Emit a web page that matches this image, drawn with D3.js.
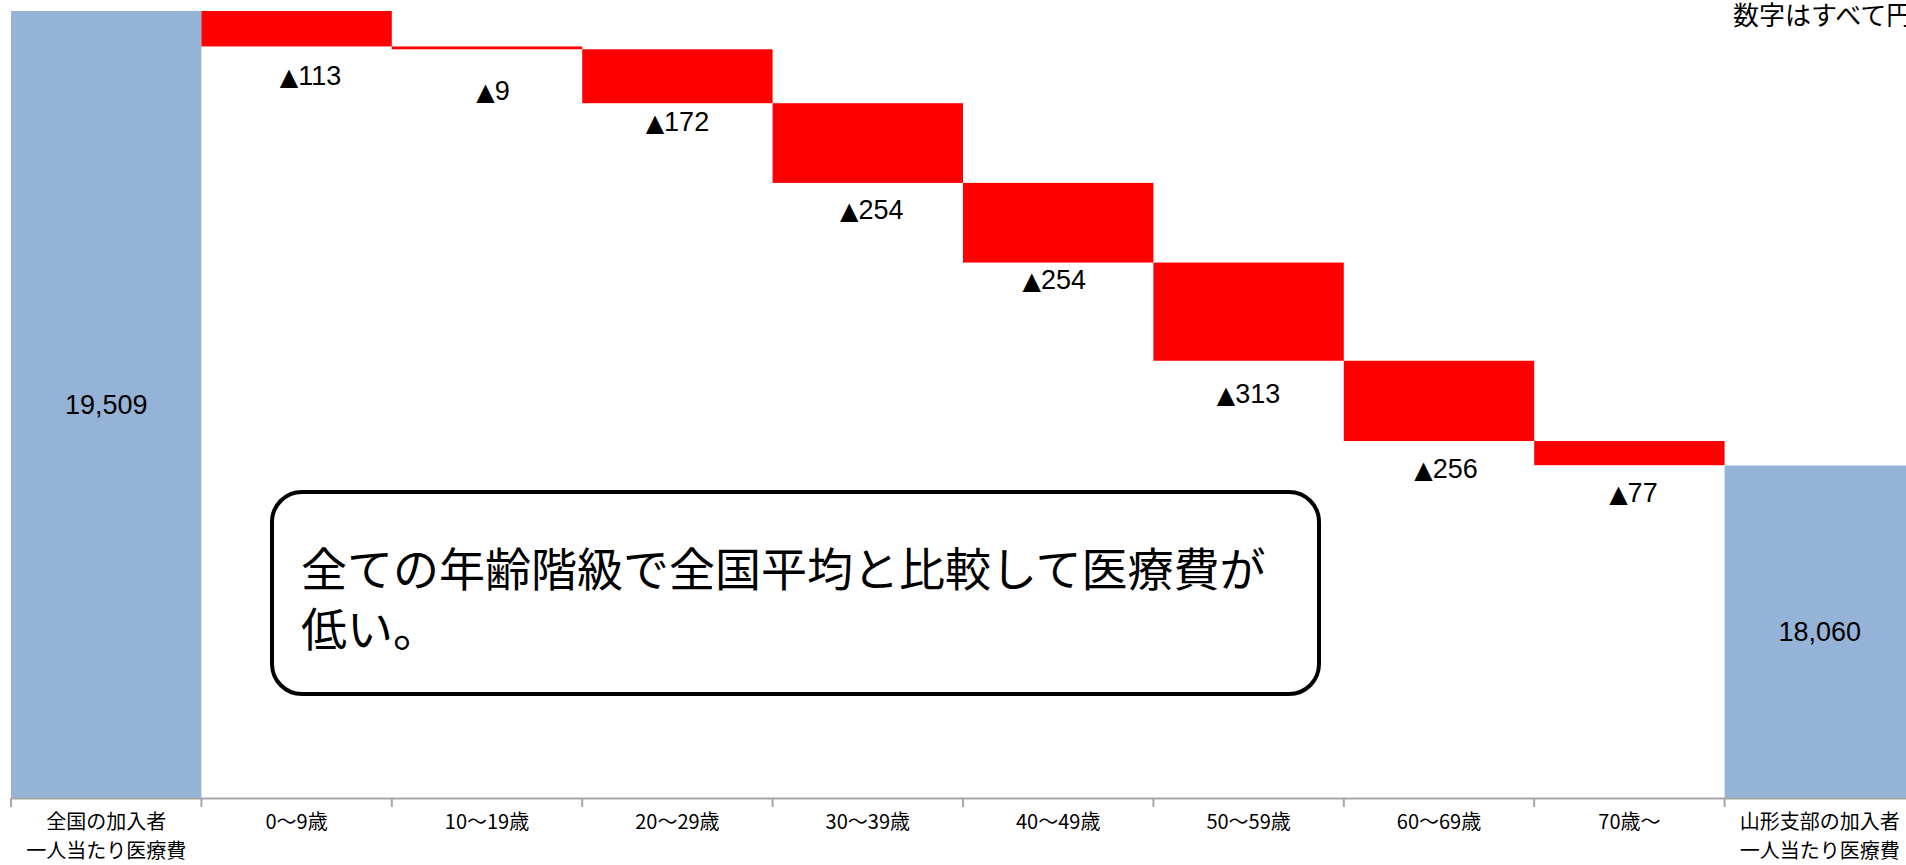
<!DOCTYPE html>
<html>
<head>
<meta charset="utf-8">
<script src="https://cdn.jsdelivr.net/npm/d3@7"></script>
<style>
  body { margin: 0; background: #fff; overflow: hidden; }
  svg { display: block; }
</style>
</head>
<body>
<div id="chart"></div>
<script>
// データ
var categories = ["全国の加入者\n一人当たり医療費", "0〜9歳", "10〜19歳", "20〜29歳", "30〜39歳",
    "40〜49歳", "50〜59歳", "60〜69歳", "70歳〜", "山形支部の加入者\n一人当たり医療費"];
var startTotal = 19509;
var decreases = [113, 9, 172, 254, 254, 313, 256, 77];
var endTotal = 18060;
var axisFloor = 17000;
var noteText = "数字はすべて円";
var calloutLines = ["全ての年齢階級で全国平均と比較して医療費が", "低い。"];

// ラベルの微調整 (px)
var labelNudge = [[14, 29], [6, 41], [0, 18], [4, 27], [-4, 17], [0, 33], [7, 28], [4, 27]];

var width = 1906, height = 865;
var svg = d3.select("#chart").append("svg")
    .attr("width", width)
    .attr("height", height)
    .style("font-family", "'Liberation Sans', Arial, 'Noto Sans CJK JP', sans-serif");

var x = d3.scaleBand().domain(categories).range([11, 1915]).padding(0);
var y = d3.scaleLinear().domain([axisFloor, startTotal]).range([798, 11]);

// 積み上げ計算
var steps = [];
var level = startTotal;
decreases.forEach(function (d, i) {
    steps.push({ cat: categories[i + 1], top: level, bottom: level - d, value: d });
    level -= d;
});

var totals = [
    { cat: categories[0], value: startTotal },
    { cat: categories[categories.length - 1], value: endTotal }
];

// 合計の棒
svg.selectAll("rect.total")
    .data(totals)
    .enter()
    .append("rect")
    .attr("class", "total")
    .attr("x", function (d) { return x(d.cat); })
    .attr("width", x.bandwidth())
    .attr("y", function (d) { return y(d.value); })
    .attr("height", function (d) { return y(axisFloor) - y(d.value); })
    .attr("fill", "#95b3d7");

svg.selectAll("text.total")
    .data(totals)
    .enter()
    .append("text")
    .attr("class", "total")
    .attr("x", function (d) { return x(d.cat) + x.bandwidth() / 2; })
    .attr("y", function (d) { return (y(d.value) + y(axisFloor)) / 2; })
    .attr("dy", "0.35em")
    .attr("text-anchor", "middle")
    .style("font-size", "27px")
    .text(function (d) { return d3.format(",")(d.value); });

// 減少分の棒
svg.selectAll("rect.step")
    .data(steps)
    .enter()
    .append("rect")
    .attr("class", "step")
    .attr("x", function (d) { return x(d.cat); })
    .attr("width", x.bandwidth())
    .attr("y", function (d) { return y(d.top); })
    .attr("height", function (d) { return y(d.bottom) - y(d.top); })
    .attr("fill", "#ff0000");

var stepText = svg.selectAll("text.step")
    .data(steps)
    .enter()
    .append("text")
    .attr("class", "step")
    .attr("x", function (d, i) { return x(d.cat) + x.bandwidth() / 2 + labelNudge[i][0]; })
    .attr("y", function (d, i) { return y(d.bottom) + labelNudge[i][1]; })
    .attr("dy", "0.35em")
    .attr("text-anchor", "middle")
    .style("font-size", "27px");

stepText.append("tspan")
    .style("font-family", "'DejaVu Sans', sans-serif")
    .style("font-size", "24px")
    .text("▲");
stepText.append("tspan")
    .text(function (d) { return d.value; });

// 横軸
var axisY = y(axisFloor);
var axisG = svg.append("g");
axisG.append("line")
    .attr("x1", x.range()[0]).attr("x2", x.range()[1])
    .attr("y1", axisY + 0.5).attr("y2", axisY + 0.5)
    .attr("stroke", "#a6a6a6").attr("stroke-width", 2);

axisG.selectAll("line.tick")
    .data(categories.concat([null]))
    .enter()
    .append("line")
    .attr("class", "tick")
    .attr("x1", function (d) { return d ? x(d) : x.range()[1]; })
    .attr("x2", function (d) { return d ? x(d) : x.range()[1]; })
    .attr("y1", axisY).attr("y2", axisY + 9)
    .attr("stroke", "#a6a6a6").attr("stroke-width", 2);

var catText = axisG.selectAll("text.cat")
    .data(categories)
    .enter()
    .append("text")
    .attr("class", "cat")
    .attr("text-anchor", "middle")
    .style("font-family", "'Noto Sans CJK JP', sans-serif")
    .style("font-size", "20px");

catText.selectAll("tspan")
    .data(function (d) { return d.split("\n").map(function (t) { return { t: t, c: d }; }); })
    .enter()
    .append("tspan")
    .attr("x", function (d) { return x(d.c) + x.bandwidth() / 2; })
    .attr("y", function (d, i) { return axisY + 31 + i * 29; })
    .text(function (d) { return d.t; });

// 単位の注記
svg.append("text")
    .attr("x", 1733)
    .attr("y", 25)
    .style("font-family", "'Noto Sans CJK JP', sans-serif")
    .style("font-size", "26px")
    .text(noteText);

// 吹き出し
svg.append("rect")
    .attr("x", 272).attr("y", 492)
    .attr("width", 1047).attr("height", 202)
    .attr("rx", 30).attr("ry", 30)
    .attr("fill", "#fff")
    .attr("stroke", "#000")
    .attr("stroke-width", 4);

svg.selectAll("text.callout")
    .data(calloutLines)
    .enter()
    .append("text")
    .attr("class", "callout")
    .attr("x", 301)
    .attr("y", function (d, i) { return 586 + i * 60; })
    .style("font-family", "'Noto Sans CJK JP', sans-serif")
    .style("font-size", "46px")
    .text(function (d) { return d; });
</script>
</body>
</html>
